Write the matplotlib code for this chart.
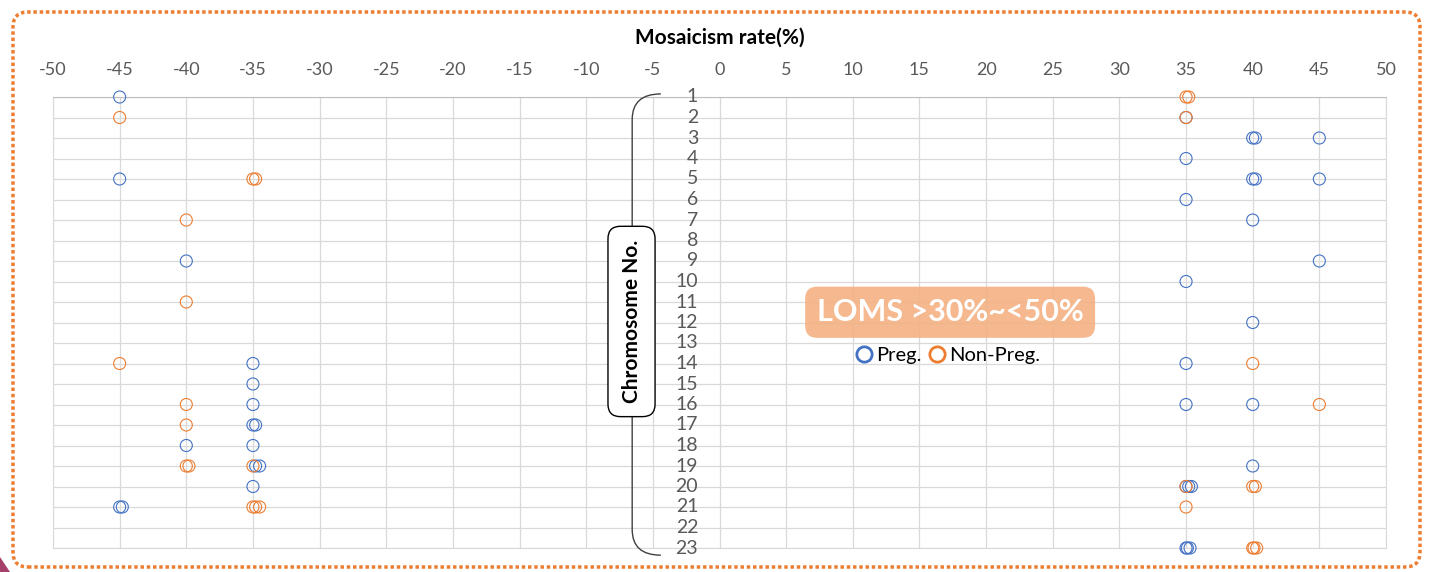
import matplotlib.pyplot as plt
from matplotlib.patches import FancyBboxPatch, PathPatch, Polygon
from matplotlib.path import Path
from matplotlib.lines import Line2D

plt.rcParams['font.family'] = ['Lato', 'DejaVu Sans']
plt.rcParams['axes.unicode_minus'] = False

# 数据：嵌合率(%) 与 染色体号
preg_rate = [-45, -45, -40, -35, -35, -35, -35, -34.8, -40, -35, -34.8, -34.5, -35, -45, -44.8,
             35, 40, 40.2, 45, 35, 40, 40.2, 45, 35, 40, 45, 35, 40, 35, 35, 40, 40,
             35, 35.2, 35.4, 35, 35.1, 35.3]
preg_chr = [1, 5, 9, 14, 15, 16, 17, 17, 18, 18, 19, 19, 20, 21, 21,
            2, 3, 3, 3, 4, 5, 5, 5, 6, 7, 9, 10, 12, 14, 16, 16, 19,
            20, 20, 20, 23, 23, 23]

nonpreg_rate = [-45, -35, -34.8, -40, -40, -45, -40, -40, -40, -39.8, -35, -35, -34.8, -34.5,
                35, 35.2, 35, 40, 45, 35, 40, 40.2, 35, 40, 40.1, 40.3]
nonpreg_chr = [2, 5, 5, 7, 11, 14, 16, 17, 19, 19, 19, 21, 21, 21,
               1, 1, 2, 14, 16, 20, 20, 20, 21, 23, 23, 23]

x_ticks = list(range(-50, 51, 5))
chromosomes = list(range(1, 24))

blue = '#4472C4'
orange = '#ED7D31'

fig = plt.figure(figsize=(14.31, 5.72), dpi=100)
ax = fig.add_axes([53 / 1431, 1 - 548 / 572, (1386 - 53) / 1431, (548 - 97) / 572])

ax.scatter(preg_rate, preg_chr, s=75, facecolors='none', edgecolors=blue, linewidths=0.8, zorder=3, clip_on=False)
ax.scatter(nonpreg_rate, nonpreg_chr, s=75, facecolors='none', edgecolors=orange, linewidths=0.8, zorder=3, clip_on=False)

ax.set_xlim(-50, 50)
ax.set_ylim(23, 1)
ax.set_xticks(x_ticks)
ax.set_yticks(chromosomes)
ax.set_yticklabels([])
ax.xaxis.tick_top()
ax.xaxis.set_label_position('top')
ax.tick_params(axis='x', length=0, pad=14, labelsize=13, labelcolor='#595959')
ax.tick_params(axis='y', length=0)
ax.grid(True, color='#D9D9D9', linewidth=0.9)
ax.set_axisbelow(True)
for s in ax.spines.values():
    s.set_color('#D9D9D9')
ax.spines['top'].set_color('#BFBFBF')
ax.set_xlabel('Mosaicism rate(%)', fontsize=15, fontweight='bold', labelpad=13)

# 染色体编号
for c in chromosomes:
    ax.text(-1.6, c, str(c), ha='right', va='center', fontsize=14, color='#595959', zorder=4)

# 大括号
top = Path([(-4.4, 0.85), (-6.55, 0.85), (-6.55, 2.1), (-6.55, 7.4)],
           [Path.MOVETO, Path.CURVE3, Path.CURVE3, Path.LINETO])
bot = Path([(-6.55, 16.5), (-6.55, 22.1), (-6.55, 23.35), (-4.4, 23.35)],
           [Path.MOVETO, Path.LINETO, Path.CURVE3, Path.CURVE3])
for p in (top, bot):
    ax.add_patch(PathPatch(p, facecolor='none', edgecolor='#404040', lw=1.0, clip_on=False, zorder=4))

ax.text(-6.6, 11.95, 'Chromosome No.', rotation=90, ha='center', va='center', fontsize=15,
        fontweight='bold', color='black', zorder=5,
        bbox=dict(boxstyle='round,pad=0.65,rounding_size=0.6', fc='white', ec='black', lw=1.0))

# 标题框
ax.text(17.3, 11.5, 'LOMS >30%~<50%', ha='center', va='center', fontsize=22, fontweight='bold',
        color='white', zorder=5,
        bbox=dict(boxstyle='round,pad=0.38,rounding_size=0.4', fc='#F4B183', ec='none', alpha=0.9))

# 图例
handles = [Line2D([], [], ls='none', marker='o', ms=11, mfc='none', mec=blue, mew=2),
           Line2D([], [], ls='none', marker='o', ms=11, mfc='none', mec=orange, mew=2)]
ax.legend(handles, ['Preg.', 'Non-Preg.'], loc='center', ncol=2, frameon=False, fontsize=14.5,
          handletextpad=0.1, columnspacing=0.3, handlelength=1.0, borderpad=0)
leg = ax.get_legend()
leg.set_bbox_to_anchor((947 / 1431, 1 - 355 / 572), transform=fig.transFigure)

# 外框
frame = FancyBboxPatch((0.13, 0.05), 14.07, 5.55, boxstyle='round,pad=0,rounding_size=0.15',
                       transform=fig.dpi_scale_trans, fc='none', ec=orange, lw=2.5,
                       ls=(0, (1, 0.8)), zorder=10)
fig.patches.append(frame)
fig.patches.append(Polygon([(0, 0.0), (0, 0.15), (0.1, 0.0)], closed=True,
                           transform=fig.dpi_scale_trans, fc='#A5416B', ec='none'))

plt.savefig('out.png', dpi=100)
